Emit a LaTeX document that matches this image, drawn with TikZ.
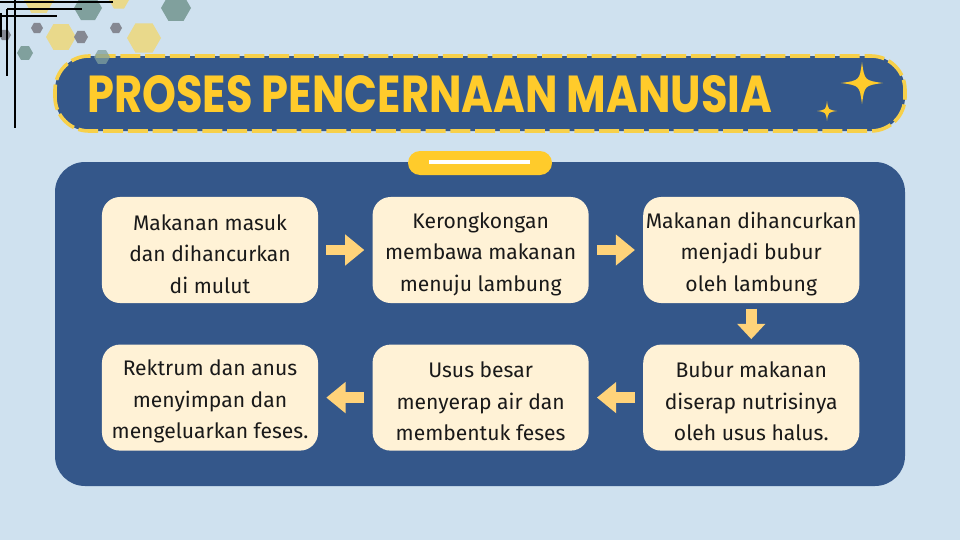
\documentclass[tikz,border=0pt]{standalone}
\usepackage{fontspec}
\setmainfont{Fira Sans}
\newfontfamily\titlefont{Poppins}
\usetikzlibrary{arrows.meta,positioning}
\definecolor{bgblue}{RGB}{207,225,239}
\definecolor{navy}{RGB}{52,87,138}
\definecolor{gold}{RGB}{255,203,43}
\definecolor{golddash}{RGB}{247,208,74}
\definecolor{cream}{RGB}{255,242,214}
\definecolor{peach}{RGB}{255,211,122}
\definecolor{hexteal}{RGB}{128,160,157}
\definecolor{hexsand}{RGB}{233,217,139}
\definecolor{hexgrey}{RGB}{133,136,146}
\definecolor{inktext}{RGB}{25,25,25}

\begin{document}
\begin{tikzpicture}[x=0.025cm, y=-0.025cm,
  stepbox/.style={fill=cream, rounded corners=0.45cm, minimum width=5.4cm,
    minimum height=2.65cm, inner sep=0pt, align=center, text=inktext,
    font=\fontsize{15}{22.4}\selectfont},
  flow/.style={draw=peach, line width=0.27cm,
    -{Triangle[length=0.48cm, width=0.75cm]},
    shorten <=0.2cm, shorten >=0.2cm}]

\useasboundingbox (0,0) rectangle (960,540);
\fill[bgblue] (0,0) rectangle (960,540);

% === Corner decoration ===
\foreach \cx/\cy/\r/\c in {39/0/15/hexsand, 88/8/14/hexteal, 119/0/10/hexsand,
    176/8/15/hexteal, 37/28/6/hexgrey, 61/37/15/hexsand, 81/37/7/hexgrey,
    116/28/6/hexgrey, 144/38/17/hexsand, 5/35/6/hexgrey, 25/53/8/hexteal}
  \fill[\c] (\cx,\cy) +(0:\r) -- +(60:\r) -- +(120:\r) -- +(180:\r)
    -- +(240:\r) -- +(300:\r) -- cycle;
\draw[line width=0.95pt] (15,0) -- (15,128) (7,9) -- (7,76) (1,13) -- (1,37)
  (0,2) -- (113,2) (7,9) -- (82,9) (0,16) -- (57,16);

% === Title banner ===
\draw[golddash, fill=navy, line width=0.09cm, rounded corners=0.85cm,
  dash pattern=on 0.5cm off 0.12cm] (55,56) rectangle (905,131);
\fill[hexteal, fill opacity=0.75] (102,57) +(0:8) -- +(60:8) -- +(120:8)
  -- +(180:8) -- +(240:8) -- +(300:8) -- cycle;
\node[font=\titlefont\bfseries\fontsize{37}{37}\selectfont, text=gold,
  anchor=west, inner sep=0pt] (title) at (87,94)
  {\scalebox{0.83}[1]{PROSES PENCERNAAN MANUSIA}};
\foreach \cx/\cy/\r in {862/83/21, 827/111/10}
  \fill[gold] (\cx,\cy-\r) .. controls (\cx+0.12*\r,\cy-0.12*\r) .. (\cx+\r,\cy)
    .. controls (\cx+0.12*\r,\cy+0.12*\r) .. (\cx,\cy+\r)
    .. controls (\cx-0.12*\r,\cy+0.12*\r) .. (\cx-\r,\cy)
    .. controls (\cx-0.12*\r,\cy-0.12*\r) .. cycle;

% === Main panel ===
\fill[navy, rounded corners=0.75cm] (55,162) rectangle (905,486);
\fill[gold, rounded corners=0.3cm] (408,151) rectangle (552,175);
\fill[white] (429,160) rectangle (530,164);

% === Steps ===
\node[stepbox] (mulut) at (210,250) {\rule{0pt}{17pt}Makanan masuk\\dan dihancurkan\\di mulut};
\node[stepbox, right=1.35cm of mulut] (kerongkongan)
  {\rule{0pt}{17pt}Kerongkongan\\membawa makanan\\menuju lambung};
\node[stepbox, right=1.35cm of kerongkongan] (lambung)
  {\rule{0pt}{17pt}Makanan dihancurkan\\menjadi bubur\\oleh lambung};
\node[stepbox, below=1.025cm of lambung] (halus)
  {\rule{0pt}{17pt}Bubur makanan\\diserap nutrisinya\\oleh usus halus.};
\node[stepbox, left=1.35cm of halus] (besar)
  {\rule{0pt}{17pt}Usus besar\\menyerap air dan\\membentuk feses};
\node[stepbox, left=1.35cm of besar] (rektum)
  {\rule{0pt}{17pt}Rektrum dan anus\\menyimpan dan\\mengeluarkan feses.};

\draw[flow] (mulut) -- (kerongkongan);
\draw[flow] (kerongkongan) -- (lambung);
\draw[flow, shorten <=0.13cm, shorten >=0.13cm,
  -{Triangle[length=0.38cm, width=0.68cm]}] (lambung) -- (halus);
\draw[flow] (halus) -- (besar);
\draw[flow] (besar) -- (rektum);

\end{tikzpicture}
\end{document}
